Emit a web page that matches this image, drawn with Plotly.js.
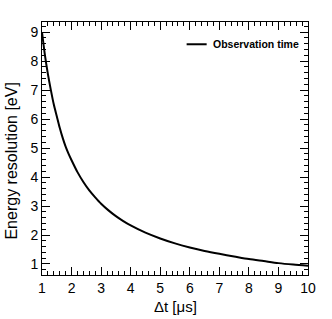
<!DOCTYPE html>
<html>
<head>
<meta charset="utf-8">
<script src="https://cdn.plot.ly/plotly-3.0.1.min.js"></script>
<style>html,body{margin:0;padding:0;background:#fff;}#chart{width:332px;height:319px;}</style>
</head>
<body>
<div id="chart"></div>
<script>
// Values
const dtValues = [1, 1.1, 1.2, 1.3, 1.4, 1.5, 1.6, 1.7, 1.8, 1.9, 2, 2.2, 2.4, 2.6, 2.8, 3, 3.25, 3.5, 3.75, 4, 4.5, 5, 5.5, 6, 6.5, 7, 7.5, 8, 8.5, 9, 9.5, 10];
const resolutionValues = [9.0, 8.2, 7.55, 7.0, 6.5, 6.1, 5.7, 5.35, 5.05, 4.8, 4.58, 4.17, 3.83, 3.54, 3.3, 3.08, 2.85, 2.65, 2.48, 2.33, 2.08, 1.88, 1.71, 1.57, 1.45, 1.35, 1.26, 1.17, 1.1, 1.03, 0.98, 0.94];
const seriesName = "Observation time";
const xTitle = "Δt [μs]";
const yTitle = "Energy resolution [eV]";

const font = "Liberation Sans, Arial, Helvetica, sans-serif";

const trace = {
  x: dtValues,
  y: resolutionValues,
  type: "scatter",
  mode: "lines",
  name: seriesName,
  line: {color: "#000", width: 2, shape: "spline", smoothing: 0.8},
  showlegend: false
};

const axisCommon = {
  showgrid: false,
  zeroline: false,
  showline: true,
  linecolor: "#000",
  linewidth: 1,
  mirror: "ticks",
  ticks: "inside",
  ticklen: 8,
  tickwidth: 1,
  tickcolor: "#000",
  dtick: 1,
  tickfont: {family: font, size: 14, color: "#000"},
  minor: {ticks: "inside", ticklen: 4, tickwidth: 1, tickcolor: "#000", dtick: 0.2, showgrid: false}
};

const layout = {
  width: 332,
  height: 319,
  margin: {l: 42, r: 24, t: 22, b: 44},
  paper_bgcolor: "#fff",
  plot_bgcolor: "#fff",
  xaxis: Object.assign({}, axisCommon, {range: [1, 10], tick0: 1}),
  yaxis: Object.assign({}, axisCommon, {range: [0.62, 9.35], tick0: 0}),
  annotations: [
    {text: xTitle, xref: "paper", yref: "paper", x: 0.5, y: -0.125, xanchor: "center", yanchor: "middle",
     showarrow: false, font: {family: font, size: 15, color: "#000"}},
    {text: yTitle, xref: "paper", yref: "paper", x: -0.115, y: 0.45, xanchor: "center", yanchor: "middle",
     textangle: -90, showarrow: false, font: {family: font, size: 16, color: "#000"}},
    {text: "<b>" + seriesName + "</b>", xref: "paper", yref: "paper", x: 0.6365, y: 0.912, xanchor: "left", yanchor: "middle",
     showarrow: false, font: {family: font, size: 10.5, color: "#000"}}
  ],
  shapes: [
    {type: "line", xref: "paper", yref: "paper", x0: 0.5437, x1: 0.619, y0: 0.912, y1: 0.912,
     line: {color: "#000", width: 2}}
  ]
};

Plotly.newPlot("chart", [trace], layout, {displayModeBar: false, staticPlot: true});
</script>
</body>
</html>
